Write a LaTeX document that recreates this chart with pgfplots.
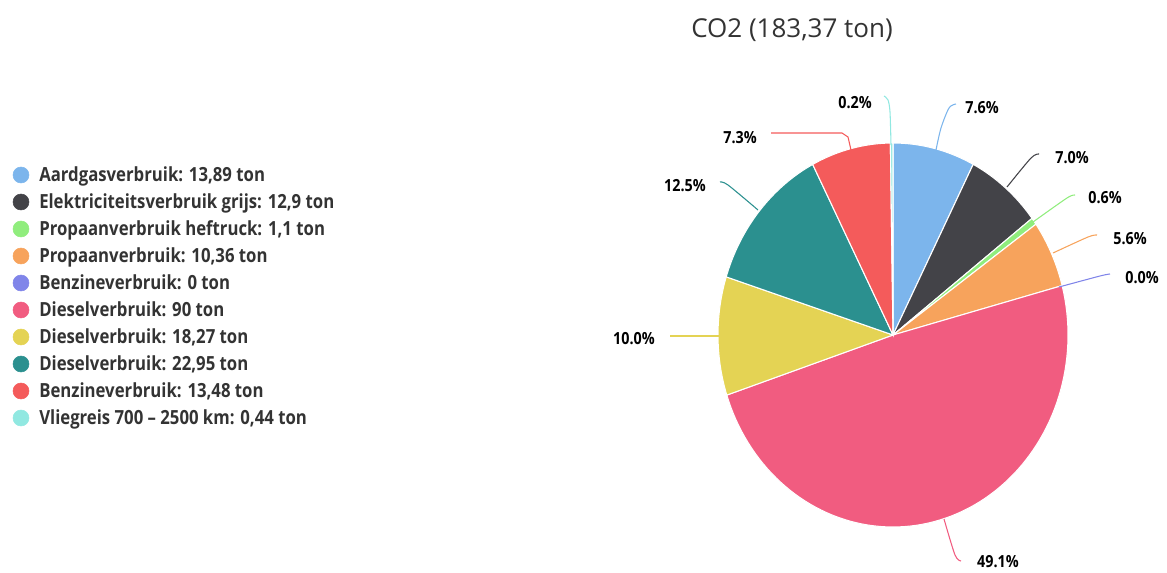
\documentclass[border=0pt]{standalone}
\usepackage{pgfplots}
\pgfplotsset{compat=1.18}
\usepackage{fontspec}
\setmainfont{Open Sans}
\newfontfamily\legfont{Open Sans}[FakeStretch=0.86, Ligatures=TeX]
\definecolor{c1}{HTML}{7CB5EC}
\definecolor{c2}{HTML}{434348}
\definecolor{c3}{HTML}{90ED7D}
\definecolor{c4}{HTML}{F7A35C}
\definecolor{c5}{HTML}{8085E9}
\definecolor{c6}{HTML}{F15C80}
\definecolor{c7}{HTML}{E4D354}
\definecolor{c8}{HTML}{2B908F}
\definecolor{c9}{HTML}{F45B5B}
\definecolor{c10}{HTML}{91E8E1}
\definecolor{txt}{HTML}{333333}
\def\total{183.39}
\def\cum{0}
\newcommand\pieslice[2]{%
  \pgfmathsetmacro\hiang{90-\cum/\total*360}%
  \pgfmathsetmacro\newcum{\cum+#1}%
  \global\let\cum\newcum
  \pgfmathsetmacro\loang{90-\cum/\total*360}%
  \addplot[fill=#2, draw=white, line width=0.8pt, domain=\loang:\hiang, samples=90, variable=\t]
    ({893+175*cos(\t)},{-335+192*sin(\t)}) -- (axis cs:893,-335) -- cycle;
}
\newcommand\legitem[3]{% y, color, text
  \addplot[only marks, mark=*, mark size=6pt, color=#2] coordinates {(21,-#1)};
  \node[anchor=base west, inner sep=0pt, text=txt, font=\legfont\fontsize{14.6}{16}\selectfont\bfseries] at (axis cs:39,-#1-6.5) {#3};
}
\newcommand\plabel[3]{% x, y, text
  \node[anchor=center, inner sep=0pt, text=black, font=\legfont\fontsize{12.5}{14}\selectfont\bfseries] at (axis cs:#1,-#2) {#3};
}
\begin{document}
\begin{tikzpicture}
\begin{axis}[width=875.25pt, height=429pt, scale only axis,
  xmin=0, xmax=1167, ymin=-572, ymax=0, hide axis, clip=false]
\addplot[draw=none] coordinates {(0,0) (1167,-572)};
% slices (values in ton)
\pieslice{13.89}{c1}
\pieslice{12.9}{c2}
\pieslice{1.1}{c3}
\pieslice{10.36}{c4}
% Benzineverbruik 0 ton: no area
\pieslice{90}{c6}
\pieslice{18.27}{c7}
\pieslice{22.95}{c8}
\pieslice{13.48}{c9}
\pieslice{0.44}{c10}
% connectors
\addplot[c1, line width=0.8pt, smooth] coordinates {(956,-104) (949,-108) (941,-128) (936,-150)};
\addplot[c2, line width=0.8pt, smooth] coordinates {(1039,-154) (1031,-158) (1007,-187)};
\addplot[c3, line width=0.8pt, smooth] coordinates {(1075,-195) (1067,-198) (1033,-222)};
\addplot[c4, line width=0.8pt, smooth] coordinates {(1097,-235) (1088,-237) (1053,-253)};
\addplot[c5, line width=0.8pt, smooth] coordinates {(1110,-274) (1100,-276) (1059,-287)};
\addplot[c6, line width=0.8pt, smooth] coordinates {(961,-561) (955,-555) (944,-519)};
\addplot[c7, line width=0.8pt] coordinates {(670,-336) (720,-336)};
\addplot[c8, line width=0.8pt, smooth] coordinates {(720,-182) (728,-185) (758,-210)};
\addplot[c9, line width=0.8pt] coordinates {(771,-133) (842,-133) (848,-137) (851,-150)};
\addplot[c10, line width=0.8pt, smooth] coordinates {(884,-96) (888,-100) (890,-112) (891,-145)};
% data labels
\plabel{982}{108}{7.6\%}
\plabel{1072}{158}{7.0\%}
\plabel{1105}{198}{0.6\%}
\plabel{1130}{239}{5.6\%}
\plabel{1142}{278}{0.0\%}
\plabel{998}{562}{49.1\%}
\plabel{634}{339}{10.0\%}
\plabel{685}{186}{12.5\%}
\plabel{740}{138}{7.3\%}
\plabel{855}{103}{0.2\%}
% legend
\legitem{175}{c1}{Aardgasverbruik: 13,89 ton}
\legitem{202}{c2}{Elektriciteitsverbruik grijs: 12,9 ton}
\legitem{229}{c3}{Propaanverbruik heftruck: 1,1 ton}
\legitem{256}{c4}{Propaanverbruik: 10,36 ton}
\legitem{283}{c5}{Benzineverbruik: 0 ton}
\legitem{310}{c6}{Dieselverbruik: 90 ton}
\legitem{337}{c7}{Dieselverbruik: 18,27 ton}
\legitem{364}{c8}{Dieselverbruik: 22,95 ton}
\legitem{391}{c9}{Benzineverbruik: 13,48 ton}
\legitem{418}{c10}{Vliegreis 700 – 2500 km: 0,44 ton}
% title
\node[anchor=center, inner sep=0pt, text=txt, font=\fontsize{19.5}{22}\selectfont] at (axis cs:792,-30) {CO2 (183,37 ton)};
\end{axis}
\end{tikzpicture}
\end{document}
